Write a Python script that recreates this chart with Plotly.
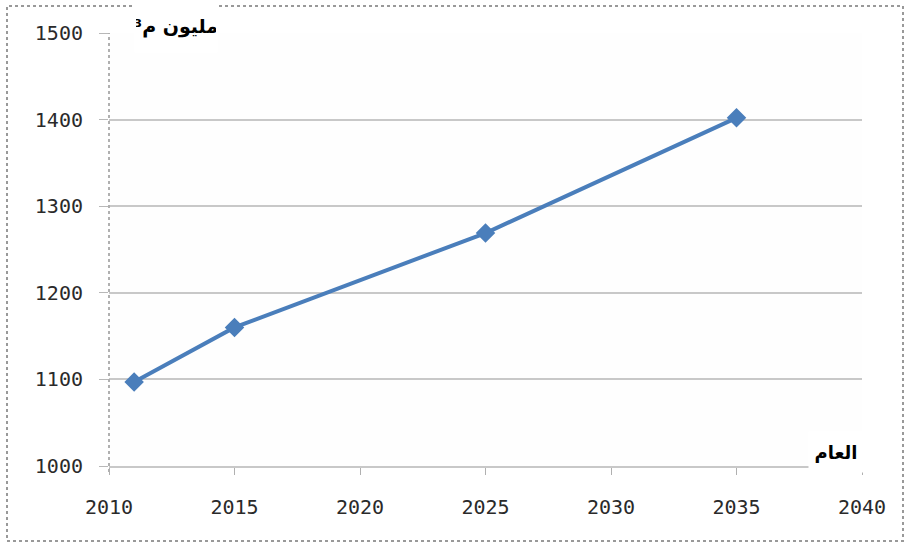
import plotly.graph_objects as go

# Projected volume (million m³) by year
years = [2011, 2015, 2025, 2035]
volumes = [1097, 1160, 1269, 1402]

x_ticks = [2010, 2015, 2020, 2025, 2030, 2035, 2040]
y_ticks = [1000, 1100, 1200, 1300, 1400, 1500]

y_title = "مليون م³"
x_title = "العام"

LEFT, RIGHT, TOP, BOTTOM = 109, 44, 33, 84
W, H = 906, 550
pw, ph = W - LEFT - RIGHT, H - TOP - BOTTOM


def px_x(v):
    return (v - LEFT) / pw


def px_y(v):
    return (H - BOTTOM - v) / ph


fig = go.Figure()
fig.add_trace(go.Scatter(
    x=years, y=volumes, mode="lines+markers",
    line=dict(color="#4a7ebb", width=4),
    marker=dict(symbol="diamond", size=15, color="#4a7ebb"),
    showlegend=False, hoverinfo="x+y",
))

tick_font = dict(family="DejaVu Sans Mono", size=20, color="#2a2a2a")

fig.update_layout(
    width=W, height=H,
    margin=dict(l=LEFT, r=RIGHT, t=TOP, b=BOTTOM),
    paper_bgcolor="white", plot_bgcolor="#fefefe",
    xaxis=dict(
        range=[2010, 2040], tickvals=x_ticks, ticktext=[str(t) for t in x_ticks],
        showgrid=False, zeroline=False, showline=True, linecolor="#c8c8c8", linewidth=2,
        ticks="outside", ticklen=7, tickcolor="#b0b0b0", tickwidth=1,
        tickfont=tick_font, ticklabelstandoff=15,
    ),
    yaxis=dict(
        range=[1000, 1500], tickvals=y_ticks, ticktext=[str(t) for t in y_ticks],
        showgrid=True, gridcolor="#c8c8c8", gridwidth=2, zeroline=False, showline=False,
        ticks="outside", ticklen=9, tickcolor="#b8b8b8", tickwidth=1,
        tickfont=tick_font, ticklabelstandoff=12,
    ),
    shapes=[
        # outer dotted frame
        dict(type="rect", xref="paper", yref="paper",
             x0=px_x(7), x1=px_x(903), y0=px_y(541), y1=px_y(6),
             line=dict(color="#999999", width=2, dash="dot"), layer="below"),
        # dotted vertical axis
        dict(type="line", xref="paper", yref="paper",
             x0=0, x1=0, y0=px_y(472), y1=1,
             line=dict(color="#b0b0b0", width=2, dash="dot")),
    ],
    annotations=[
        dict(text=y_title, xref="paper", yref="paper",
             x=px_x(176), y=px_y(26), xanchor="center", yanchor="middle",
             showarrow=False, bgcolor="white", width=80, height=50,
             font=dict(family="DejaVu Sans", size=19, color="black", weight="bold")),
        dict(text=x_title, xref="paper", yref="paper",
             x=px_x(836), y=px_y(452), xanchor="center", yanchor="middle",
             showarrow=False, bgcolor="white", width=52, height=38,
             font=dict(family="DejaVu Sans", size=18, color="black", weight="bold")),
    ],
)

fig.write_html("out.html")
